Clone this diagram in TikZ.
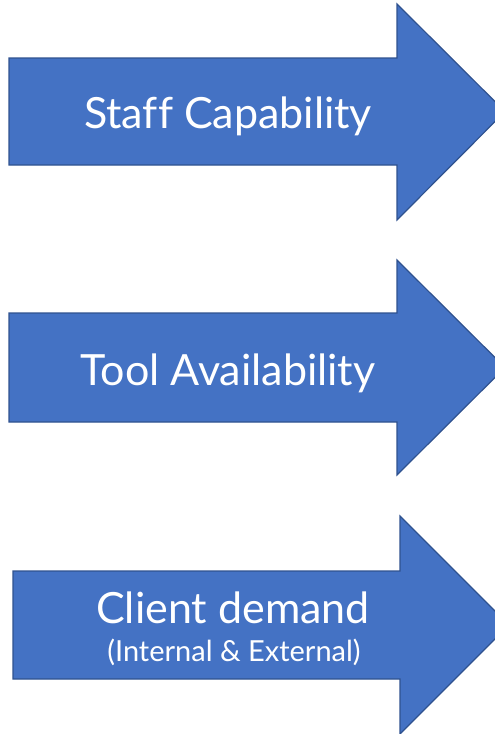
\documentclass[tikz,border=0pt]{standalone}
\usepackage{fontspec}
\setmainfont{Lato}[Ligatures=NoCommon]
\definecolor{arrowfill}{HTML}{4472C4}
\definecolor{arrowline}{HTML}{2F528F}
\begin{document}
\begin{tikzpicture}[x=1pt,y=-1pt,
  bigarrow/.style={fill=arrowfill,draw=arrowline,line width=1.2pt,line join=miter},
  lbl/.style={text=white,font=\fontsize{43}{46}\selectfont,inner sep=0pt,anchor=base},
  sublbl/.style={text=white,font=\fontsize{29}{32}\selectfont,inner sep=0pt,anchor=base}]
\useasboundingbox (0,0) rectangle (495,734);
\begin{scope}
\clip (0,0) rectangle (495,734);
% arrow 1
\draw[bigarrow] (9,58) -- (397,58) -- (397,4) -- (505,111.5) -- (397,220) -- (397,165) -- (9,165) -- cycle;
% arrow 2
\draw[bigarrow] (9,313) -- (397,313) -- (397,260) -- (505,367.5) -- (397,475) -- (397,422) -- (9,422) -- cycle;
% arrow 3
\draw[bigarrow] (13,571) -- (400,571) -- (400,516) -- (509,625) -- (400,734) -- (400,679) -- (13,679) -- cycle;
\end{scope}
\node[lbl] (t1) at (228,128) {Staff Capability};
\node[lbl] (t2) at (228,385) {Tool Availability};
\node[lbl] (t3) at (233,623) {Client demand};
\node[sublbl] (t4) at (234,661) {(Internal \& External)};
\end{tikzpicture}
\end{document}
